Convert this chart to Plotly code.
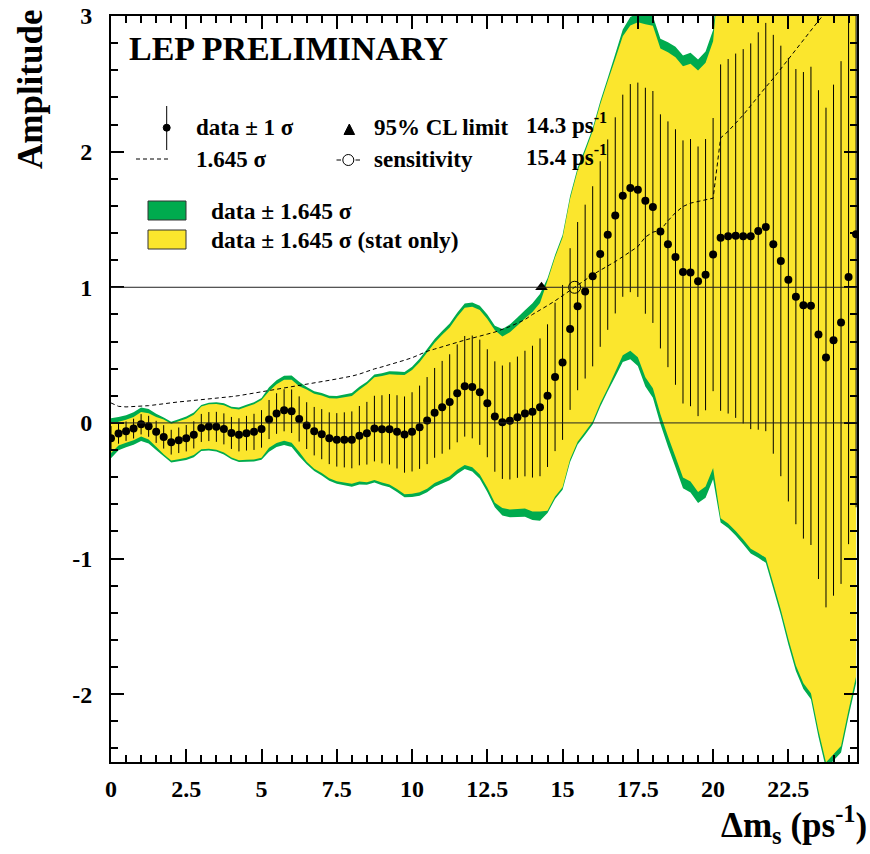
import plotly.graph_objects as go

# Oscillation frequency scan points (ps^-1)
dm = [0.0, 0.25, 0.5, 0.75, 1.0, 1.25, 1.5, 1.75, 2.0, 2.25,
      2.5, 2.75, 3.0, 3.25, 3.5, 3.75, 4.0, 4.25, 4.5, 4.75,
      5.0, 5.25, 5.5, 5.75, 6.0, 6.25, 6.5, 6.75, 7.0, 7.25,
      7.5, 7.75, 8.0, 8.25, 8.5, 8.75, 9.0, 9.25, 9.5, 9.75,
      10.0, 10.25, 10.5, 10.75, 11.0, 11.25, 11.5, 11.75, 12.0, 12.25,
      12.5, 12.75, 13.0, 13.25, 13.5, 13.75, 14.0, 14.25, 14.5, 14.75,
      15.0, 15.25, 15.5, 15.75, 16.0, 16.25, 16.5, 16.75, 17.0, 17.25,
      17.5, 17.75, 18.0, 18.25, 18.5, 18.75, 19.0, 19.25, 19.5, 19.75,
      20.0, 20.25, 20.5, 20.75, 21.0, 21.25, 21.5, 21.75, 22.0, 22.25,
      22.5, 22.75, 23.0, 23.25, 23.5, 23.75, 24.0, 24.25, 24.5, 24.75]

# Measured amplitude at each frequency
amplitude = [-0.113, -0.079, -0.061, -0.042, -0.010, -0.025, -0.066, -0.103, -0.142, -0.128,
             -0.113, -0.088, -0.037, -0.027, -0.029, -0.044, -0.074, -0.088, -0.076, -0.066,
             -0.044, 0.025, 0.069, 0.093, 0.086, 0.029, -0.020, -0.061, -0.083, -0.113,
             -0.125, -0.125, -0.125, -0.094, -0.076, -0.042, -0.047, -0.047, -0.066, -0.086,
             -0.066, -0.032, 0.017, 0.074, 0.115, 0.155, 0.218, 0.270, 0.265, 0.226,
             0.145, 0.047, 0.005, 0.015, 0.042, 0.069, 0.083, 0.115, 0.201, 0.339,
             0.446, 0.692, 0.861, 0.968, 1.081, 1.245, 1.388, 1.530, 1.675, 1.731,
             1.719, 1.638, 1.592, 1.412, 1.317, 1.223, 1.113, 1.108, 1.044, 1.093,
             1.241, 1.366, 1.376, 1.380, 1.376, 1.376, 1.415, 1.444, 1.317, 1.194,
             1.056, 0.931, 0.867, 0.863, 0.651, 0.482, 0.610, 0.740, 1.076, 1.390]

# Total (stat + syst) 1 sigma uncertainty
sigma_tot = [0.0894, 0.0742, 0.0717, 0.0729, 0.0748, 0.0772, 0.0815, 0.0863, 0.0912, 0.0942,
             0.0973, 0.1003, 0.1033, 0.1070, 0.1106, 0.1143, 0.1179, 0.1222, 0.1277, 0.1331,
             0.1386, 0.1441, 0.1495, 0.1550, 0.1605, 0.1666, 0.1726, 0.1787, 0.1848, 0.1909,
             0.1970, 0.2030, 0.2097, 0.2188, 0.2310, 0.2420, 0.2510, 0.2600, 0.2700, 0.2810,
             0.2920, 0.3070, 0.3210, 0.3310, 0.3420, 0.3510, 0.3610, 0.3710, 0.3790, 0.3880,
             0.3980, 0.4070, 0.4180, 0.4320, 0.4470, 0.4630, 0.4860, 0.5080, 0.5260, 0.5470,
             0.5710, 0.5960, 0.6200, 0.6410, 0.6640, 0.6840, 0.7020, 0.7230, 0.7450, 0.7670,
             0.7900, 0.8330, 0.8550, 0.8630, 0.9060, 0.9420, 0.9700, 0.9850, 0.9940, 1.0000,
             1.0070, 1.2770, 1.3070, 1.3430, 1.3800, 1.4220, 1.4650, 1.5050, 1.5440, 1.5870,
             1.6350, 1.6780, 1.7200, 1.7630, 1.8020, 1.8420, 1.8840, 1.9270, 1.9700, 2.0120]

# Statistical part of the uncertainty, as a fraction of the total
stat_frac = [0.74, 0.72, 0.72, 0.72, 0.74, 0.76, 0.82, 0.90, 0.90, 0.90,
             0.90, 0.90, 0.93, 0.93, 0.93, 0.93, 0.93, 0.93, 0.93, 0.93,
             0.93, 0.88, 0.88, 0.88, 0.88, 0.88, 0.94, 0.94, 0.94, 0.94,
             0.94, 0.94, 0.94, 0.94, 0.95, 0.95, 0.95, 0.95, 0.95, 0.95,
             0.95, 0.95, 0.95, 0.95, 0.95, 0.95, 0.95, 0.95, 0.95, 0.95,
             0.95, 0.95, 0.92, 0.92, 0.92, 0.92, 0.92, 0.92, 0.98, 0.98,
             0.98, 0.98, 0.98, 0.98, 0.98, 0.98, 0.98, 0.97, 0.96, 0.95,
             0.95, 0.95, 0.95, 0.95, 0.95, 0.95, 0.95, 0.95, 0.95, 0.95,
             0.95, 0.985, 0.985, 0.985, 0.985, 0.985, 0.985, 0.985, 0.985, 0.985,
             0.985, 0.985, 0.985, 0.985, 0.985, 0.985, 0.985, 0.985, 0.985, 0.985]

limit_95 = 14.3      # 95% CL lower limit (ps^-1)
sensitivity = 15.4   # expected sensitivity (ps^-1)
K = 1.645

x_ticks = [0, 2.5, 5, 7.5, 10, 12.5, 15, 17.5, 20, 22.5]
x_ticktext = ["0", "2.5", "5", "7.5", "10", "12.5", "15", "17.5", "20", "22.5"]
y_ticks = [-2, -1, 0, 1, 2, 3]
y_ticktext = ["-2", "-1", "0", "1", "2", "3"]

GREEN = "#00AB4E"
YELLOW = "#FBE62D"
FONT = "Liberation Serif"

sig_stat = [s * f for s, f in zip(sigma_tot, stat_frac)]
green_hi = [a + K * s for a, s in zip(amplitude, sigma_tot)]
green_lo = [a - K * s for a, s in zip(amplitude, sigma_tot)]
yellow_hi = [a + K * s for a, s in zip(amplitude, sig_stat)]
yellow_lo = [a - K * s for a, s in zip(amplitude, sig_stat)]
dashed = [K * s for s in sigma_tot]

fig = go.Figure()

# total-uncertainty band
fig.add_trace(go.Scatter(x=dm + dm[::-1], y=green_hi + green_lo[::-1],
                         fill="toself", fillcolor=GREEN, mode="none",
                         hoverinfo="skip", showlegend=False))
# statistical-only band
fig.add_trace(go.Scatter(x=dm + dm[::-1], y=yellow_hi + yellow_lo[::-1],
                         fill="toself", fillcolor=YELLOW, mode="none",
                         hoverinfo="skip", showlegend=False))

fig.add_hline(y=0, line=dict(color="#222", width=1))
fig.add_hline(y=1, line=dict(color="#222", width=1))

# 1.645 sigma curve
fig.add_trace(go.Scatter(x=dm, y=dashed, mode="lines",
                         line=dict(color="black", width=1, dash="4px,3px"),
                         showlegend=False))

# data points with 1 sigma error bars
fig.add_trace(go.Scatter(x=dm, y=amplitude, mode="markers",
                         marker=dict(color="black", size=8),
                         error_y=dict(type="data", array=sigma_tot, color="black",
                                      thickness=1, width=0),
                         showlegend=False))

fig.add_trace(go.Scatter(x=[limit_95], y=[1], mode="markers",
                         marker=dict(symbol="triangle-up", size=11, color="black"),
                         showlegend=False))
fig.add_trace(go.Scatter(x=[sensitivity], y=[1], mode="markers",
                         marker=dict(symbol="circle-open", size=12, color="black",
                                     line=dict(width=1)),
                         showlegend=False))

# ---- key drawn in paper coordinates (pixel helper) ----
X0, X1, Y0, Y1 = 111, 857, 16, 762


def px(x):
    return (x - X0) / (X1 - X0)


def py(y):
    return (Y1 - y) / (Y1 - Y0)


shapes = []
shapes.append(dict(type="line", xref="paper", yref="paper", x0=px(166.7), x1=px(166.7),
                   y0=py(106), y1=py(150), line=dict(color="black", width=1)))
shapes.append(dict(type="circle", xref="paper", yref="paper", x0=px(163.2), x1=px(170.2),
                   y0=py(124.2), y1=py(131.2), fillcolor="black", line=dict(color="black", width=1)))
shapes.append(dict(type="line", xref="paper", yref="paper", x0=px(136), x1=px(171),
                   y0=py(159), y1=py(159), line=dict(color="black", width=1, dash="4px,3px")))
shapes.append(dict(type="path", xref="paper", yref="paper",
                   path="M {} {} L {} {} L {} {} Z".format(px(344), py(134.5), px(354.6), py(134.5),
                                                          px(349.3), py(124)),
                   fillcolor="black", line=dict(color="black", width=1)))
shapes.append(dict(type="circle", xref="paper", yref="paper", x0=px(342.8), x1=px(353.8),
                   y0=py(154.5), y1=py(165.5), line=dict(color="black", width=1)))
shapes.append(dict(type="line", xref="paper", yref="paper", x0=px(336.5), x1=px(341),
                   y0=py(160), y1=py(160), line=dict(color="black", width=1)))
shapes.append(dict(type="line", xref="paper", yref="paper", x0=px(355.5), x1=px(360),
                   y0=py(160), y1=py(160), line=dict(color="black", width=1)))
shapes.append(dict(type="rect", xref="paper", yref="paper", x0=px(148), x1=px(186),
                   y0=py(220), y1=py(201), fillcolor=GREEN, line=dict(color="#333", width=1)))
shapes.append(dict(type="rect", xref="paper", yref="paper", x0=px(148), x1=px(186),
                   y0=py(249), y1=py(230), fillcolor=YELLOW, line=dict(color="#333", width=1)))
for s in shapes:
    fig.add_shape(**s)


def label(x, y, text, size=23):
    fig.add_annotation(xref="paper", yref="paper", x=px(x), y=py(y), text=text,
                       showarrow=False, xanchor="left", yanchor="middle",
                       font=dict(family=FONT, size=size, color="black", weight="bold"))


label(127, 48, "LEP PRELIMINARY", size=34)
label(194, 128, "data \u00b1 1 \u03c3")
label(194, 159, "1.645 \u03c3")
label(372, 128, "95% CL limit")
label(524, 124, f"{limit_95} ps<sup>-1</sup>")
label(372, 159, "sensitivity")
label(524, 155, f"{sensitivity} ps<sup>-1</sup>")
label(209, 211, "data \u00b1 1.645 \u03c3", size=23.5)
label(209, 240, "data \u00b1 1.645 \u03c3 (stat only)", size=23.5)

# axis titles
fig.add_annotation(xref="paper", yref="paper", x=px(869), y=py(824),
                   text="\u0394m<sub>s</sub> (ps<sup>-1</sup>)", showarrow=False,
                   xanchor="right", yanchor="middle",
                   font=dict(family=FONT, size=35, color="black", weight="bold"))
fig.add_annotation(xref="paper", yref="paper", x=px(31), y=py(90),
                   text="Amplitude", textangle=-90, showarrow=False,
                   xanchor="center", yanchor="middle",
                   font=dict(family=FONT, size=35, color="black", weight="bold"))

axis_common = dict(showline=True, linewidth=2, linecolor="black", mirror="allticks",
                   ticks="inside", ticklen=13, tickwidth=2, tickcolor="black",
                   showgrid=False, zeroline=False, automargin=False,
                   tickfont=dict(family=FONT, size=24, color="black", weight="bold"))

fig.update_xaxes(range=[0, 24.78], tickmode="array", tickvals=x_ticks, ticktext=x_ticktext,
                 ticklabelstandoff=4,
                 minor=dict(ticks="inside", ticklen=7, tickwidth=2, tickcolor="black",
                            dtick=0.5, tick0=0, showgrid=False),
                 **axis_common)
fig.update_yaxes(range=[-2.5, 3], tickmode="array", tickvals=y_ticks, ticktext=y_ticktext,
                 ticklabelstandoff=12,
                 minor=dict(ticks="inside", ticklen=7, tickwidth=2, tickcolor="black",
                            dtick=0.2, tick0=0, showgrid=False),
                 **axis_common)

fig.update_layout(width=870, height=854, margin=dict(l=111, r=13, t=16, b=92),
                  plot_bgcolor="white", paper_bgcolor="white", showlegend=False)

fig.write_html("out.html")
